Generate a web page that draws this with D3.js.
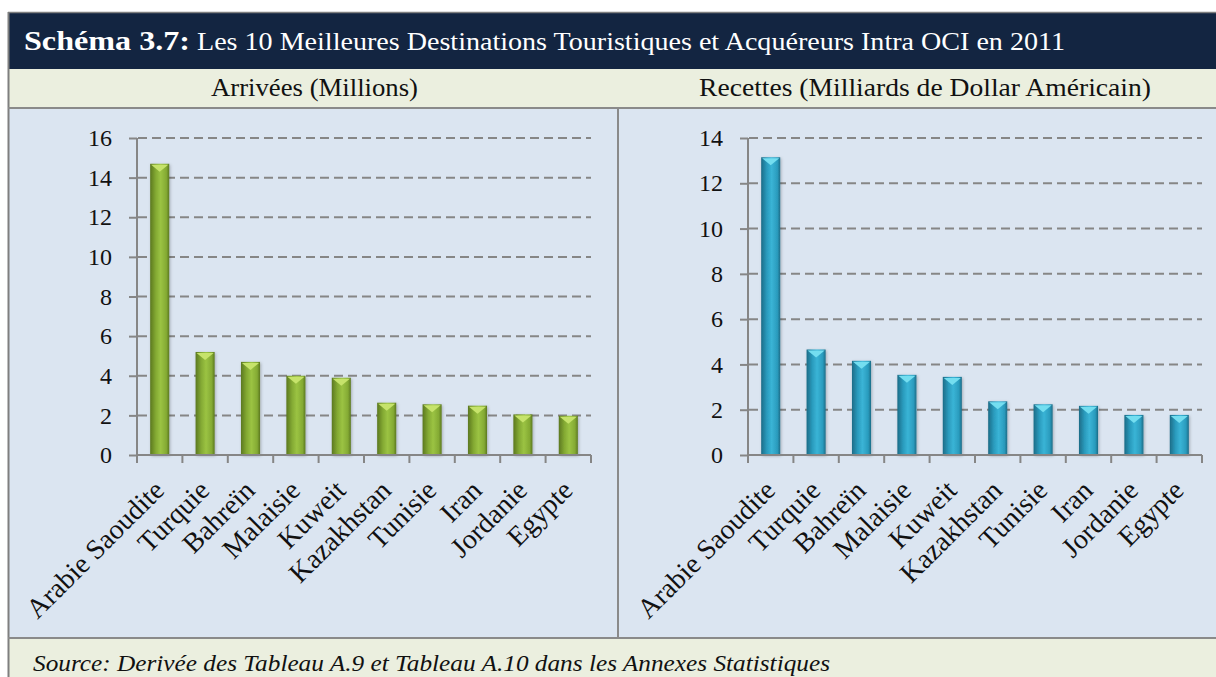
<!DOCTYPE html>
<html>
<head>
<meta charset="utf-8">
<script src="https://cdn.jsdelivr.net/npm/d3@7"></script>
<style>
  body { margin: 0; background: #ffffff; }
  svg { display: block; font-family: "Liberation Serif", "DejaVu Serif", serif; }
</style>
</head>
<body>
<div id="chart"></div>
<script>
"use strict";

// data
var countries = ["Arabie Saoudite", "Turquie", "Bahreïn", "Malaisie", "Kuweit",
                 "Kazakhstan", "Tunisie", "Iran", "Jordanie", "Egypte"];
var arrivals = [14.7, 5.2, 4.7, 4.0, 3.9, 2.64, 2.56, 2.49, 2.05, 1.98];
var receipts = [13.15, 4.66, 4.16, 3.54, 3.45, 2.37, 2.24, 2.17, 1.77, 1.77];
var arrivalTicks = [0, 2, 4, 6, 8, 10, 12, 14, 16];
var receiptTicks = [0, 2, 4, 6, 8, 10, 12, 14];

var W = 1216, H = 677;

var svg = d3.select("#chart")
            .append("svg")
            .attr("width", W)
            .attr("height", H);

var defs = svg.append("defs");

function barGradient(id, dark, mid, light) {
    var g = defs.append("linearGradient")
                .attr("id", id)
                .attr("x1", "0%").attr("x2", "100%")
                .attr("y1", "0%").attr("y2", "0%");
    g.append("stop").attr("offset", "0%").attr("stop-color", dark);
    g.append("stop").attr("offset", "30%").attr("stop-color", mid);
    g.append("stop").attr("offset", "55%").attr("stop-color", light);
    g.append("stop").attr("offset", "85%").attr("stop-color", mid);
    g.append("stop").attr("offset", "100%").attr("stop-color", dark);
}
barGradient("gGreen", "#5b7820", "#84aa33", "#9bc343");
barGradient("gBlue", "#1c6c87", "#2a9bbd", "#3ab4d6");

var shadow = defs.append("filter").attr("id", "shade")
                 .attr("x", "-30%").attr("y", "-10%").attr("width", "160%").attr("height", "120%");
shadow.append("feDropShadow").attr("dx", 1).attr("dy", 1).attr("stdDeviation", 1.5)
      .attr("flood-color", "#000").attr("flood-opacity", 0.25);

// frame
svg.append("rect").attr("x", 8).attr("y", 12).attr("width", W).attr("height", 57)
   .attr("fill", "#132541");
svg.append("rect").attr("x", 8).attr("y", 69).attr("width", W).attr("height", 39)
   .attr("fill", "#ebefdf");
svg.append("rect").attr("x", 8).attr("y", 108).attr("width", W).attr("height", 530)
   .attr("fill", "#dbe5f1");
svg.append("rect").attr("x", 8).attr("y", 638).attr("width", W).attr("height", 50)
   .attr("fill", "#ebefdf");
svg.append("line").attr("x1", 8.5).attr("x2", 8.5).attr("y1", 12).attr("y2", H)
   .attr("stroke", "#7f7f7f").attr("stroke-width", 2);
svg.append("line").attr("x1", 8).attr("x2", W).attr("y1", 12.5).attr("y2", 12.5)
   .attr("stroke", "#7f7f7f").attr("stroke-width", 1.5);
svg.append("line").attr("x1", 8).attr("x2", W).attr("y1", 108).attr("y2", 108)
   .attr("stroke", "#8a8a8a").attr("stroke-width", 2);
svg.append("line").attr("x1", 8).attr("x2", W).attr("y1", 638).attr("y2", 638)
   .attr("stroke", "#8a8a8a").attr("stroke-width", 2);
svg.append("line").attr("x1", 618).attr("x2", 618).attr("y1", 108).attr("y2", 638)
   .attr("stroke", "#8a8a8a").attr("stroke-width", 2);

// title (stretched to the width of the wider original font)
svg.append("text").attr("x", 24).attr("y", 50).attr("fill", "#ffffff")
   .attr("font-size", 28).attr("font-weight", "bold")
   .attr("textLength", 166).attr("lengthAdjust", "spacingAndGlyphs")
   .text("Schéma 3.7:");
svg.append("text").attr("x", 197).attr("y", 50).attr("fill", "#ffffff")
   .attr("font-size", 25)
   .attr("textLength", 868).attr("lengthAdjust", "spacingAndGlyphs")
   .text("Les 10 Meilleures Destinations Touristiques et Acquéreurs Intra OCI en 2011");

svg.append("text").attr("x", 211).attr("y", 96)
   .attr("font-size", 25).attr("fill", "#111")
   .attr("textLength", 207).attr("lengthAdjust", "spacingAndGlyphs")
   .text("Arrivées (Millions)");
svg.append("text").attr("x", 699).attr("y", 96)
   .attr("font-size", 25).attr("fill", "#111")
   .attr("textLength", 452).attr("lengthAdjust", "spacingAndGlyphs")
   .text("Recettes (Milliards de Dollar Américain)");

svg.append("text").attr("x", 33).attr("y", 671).attr("font-style", "italic")
   .attr("font-size", 23).attr("fill", "#111")
   .attr("textLength", 797).attr("lengthAdjust", "spacingAndGlyphs")
   .text("Source: Derivée des Tableau A.9 et Tableau A.10 dans les Annexes Statistiques");

function barChart(values, ticks, left, right, top, bottom, grad, capColor) {
    var x = d3.scaleBand().domain(countries).range([left, right]).paddingInner(0.58).paddingOuter(0.29);
    var y = d3.scaleLinear().domain([0, d3.max(ticks)]).range([bottom, top]);
    var g = svg.append("g");

    // dashed gridlines
    g.selectAll("line.grid")
     .data(ticks.slice(1))
     .enter()
     .append("line")
     .attr("x1", left + 1).attr("x2", right)
     .attr("y1", function(d){ return y(d); })
     .attr("y2", function(d){ return y(d); })
     .attr("stroke", "#868686").attr("stroke-width", 2)
     .attr("stroke-dasharray", "9,5");

    // y axis
    var yAxis = d3.axisLeft(y).tickValues(ticks).tickSize(8).tickPadding(17);
    var ya = g.append("g").attr("transform", "translate(" + left + ",0)").call(yAxis);
    ya.select(".domain").attr("stroke", "#868686").attr("stroke-width", 2).attr("d", "M0," + bottom + "V" + top);
    ya.selectAll(".tick line").attr("stroke", "#868686").attr("stroke-width", 2);
    ya.selectAll(".tick text").attr("font-size", 24).attr("fill", "#111")
      .attr("font-family", "Liberation Serif, serif");

    // bars
    g.selectAll("rect.bar")
     .data(values)
     .enter()
     .append("rect")
     .attr("x", function(d, i){ return x(countries[i]); })
     .attr("y", function(d){ return y(d); })
     .attr("width", x.bandwidth())
     .attr("height", function(d){ return bottom - y(d); })
     .attr("fill", "url(#" + grad + ")")
     .attr("filter", "url(#shade)");

    // light bevel on top of each bar
    g.selectAll("path.cap")
     .data(values)
     .enter()
     .append("path")
     .attr("d", function(d, i){
         var x0 = x(countries[i]), bw = x.bandwidth(), yt = y(d);
         return "M" + (x0 + 1) + "," + (yt + 1) + "L" + (x0 + bw - 1) + "," + (yt + 1) +
                "L" + (x0 + bw / 2) + "," + (yt + 8) + "Z";
     })
     .attr("fill", capColor);

    // x axis with ticks between categories
    var step = x.step();
    var xa = g.append("g");
    xa.append("line").attr("x1", left).attr("x2", right)
      .attr("y1", bottom).attr("y2", bottom)
      .attr("stroke", "#868686").attr("stroke-width", 2);
    xa.selectAll("line.xt")
      .data(d3.range(countries.length + 1))
      .enter()
      .append("line")
      .attr("x1", function(d){ return left + d * step; })
      .attr("x2", function(d){ return left + d * step; })
      .attr("y1", bottom).attr("y2", bottom + 8)
      .attr("stroke", "#868686").attr("stroke-width", 2);

    xa.selectAll("text")
      .data(countries)
      .enter()
      .append("text")
      .attr("transform", function(d){
          return "translate(" + (x(d) + x.bandwidth() / 2 + 6) + "," + (bottom + 37) + ") rotate(-45)";
      })
      .attr("text-anchor", "end")
      .attr("font-size", 28)
      .attr("fill", "#111")
      .text(function(d){ return d; });
}

barChart(arrivals, arrivalTicks, 137, 591, 138, 455, "gGreen", "#c6e36b");
barChart(receipts, receiptTicks, 748, 1202, 138, 455, "gBlue", "#74def0");
</script>
</body>
</html>
